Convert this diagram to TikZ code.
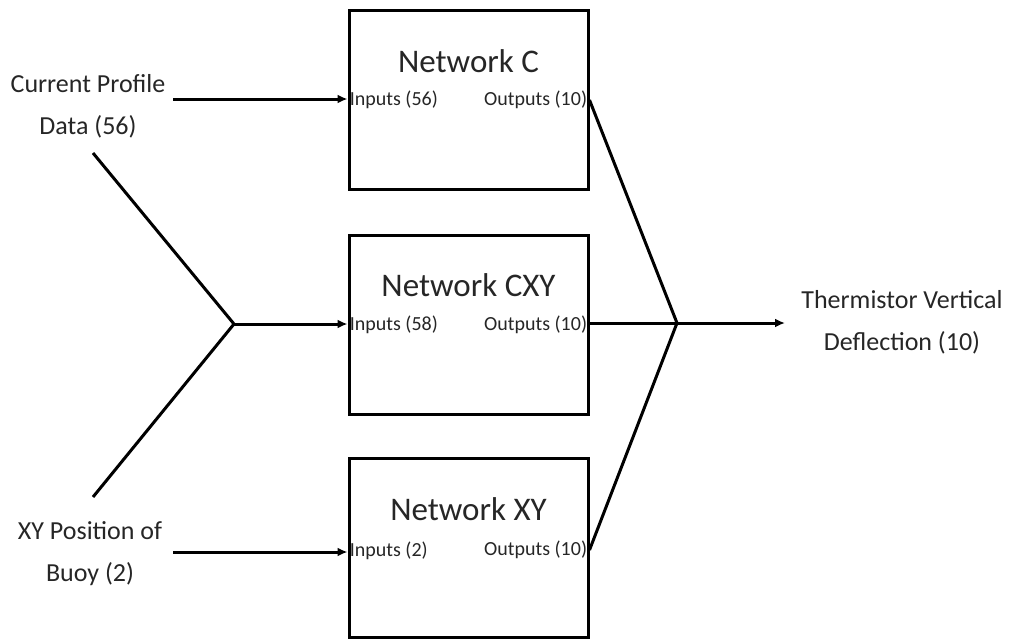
\documentclass[tikz,border=0pt]{standalone}
\usepackage{fontspec}
\setmainfont{Carlito}
\usepackage{tikz}
\usetikzlibrary{arrows.meta,positioning,calc}

\begin{document}
\begin{tikzpicture}[x=0.5pt,y=-0.5pt,every node/.style={font=\fontsize{13}{21}\selectfont,text=black!85},
  netbox/.style={draw,line width=1.5pt,minimum width=119.5pt,minimum height=89.5pt,inner sep=0pt},
  nettitle/.style={font=\fontsize{16.5}{20}\selectfont},
  portlbl/.style={font=\fontsize{10}{12}\selectfont,inner sep=1pt},
  conn/.style={line width=1.5pt},
  arr/.style={conn,-{Latex[length=5pt,width=4.5pt]}}]
\useasboundingbox (0,0) rectangle (1017,643);
% networks
\node[netbox] (netC) at (468.5,100) {};
\node[netbox] (netCXY) at (468.5,324.5) {};
\node[netbox] (netXY) at (468.5,548) {};
\node[nettitle] at ($(netC.north)+(0,52)$) {Network C};
\node[nettitle] at ($(netCXY.north)+(0,52)$) {Network CXY};
\node[nettitle] at ($(netXY.north)+(0,52)$) {Network XY};
\node[portlbl,anchor=west] (inC) at (netC.west) {Inputs (56)};
\node[portlbl,anchor=east] (outC) at (netC.east) {Outputs (10)};
\node[portlbl,anchor=west] (inCXY) at (netCXY.west) {Inputs (58)};
\node[portlbl,anchor=east] (outCXY) at (netCXY.east) {Outputs (10)};
\node[portlbl,anchor=west] (inXY) at ($(netXY.west)+(0,3)$) {Inputs (2)};
\node[portlbl,anchor=east] (outXY) at ($(netXY.east)+(0,2)$) {Outputs (10)};
% data labels
\node[align=center] (cur) at (88,106) {Current Profile\\Data (56)};
\node[align=center] (pos) at (90,554) {XY Position of\\Buoy (2)};
\node[align=center] (therm) at (902,322) {Thermistor Vertical\\Deflection (10)};
% junctions
\coordinate (curEnd) at (173,99);
\coordinate (posEnd) at (173,552);
\coordinate (curTail) at (93,153);
\coordinate (posTail) at (93,497);
\coordinate (joinIn) at (234,324);
\coordinate (joinOut) at (677,323);
\coordinate (thermEnd) at (785,323);
% connectors
\draw[arr] (curEnd) -- (curEnd -| netC.west);
\draw[arr] (posEnd) -- (posEnd -| netXY.west);
\draw[conn] (curTail) -- (joinIn) -- (posTail);
\draw[arr] (joinIn) -- (joinIn -| netCXY.west);
\draw[conn] (netC.east |- outC) -- (joinOut) -- (netXY.east |- outXY);
\draw[conn] (netCXY.east |- joinOut) -- (joinOut);
\draw[arr] (joinOut) -- (thermEnd);
\end{tikzpicture}
\end{document}
